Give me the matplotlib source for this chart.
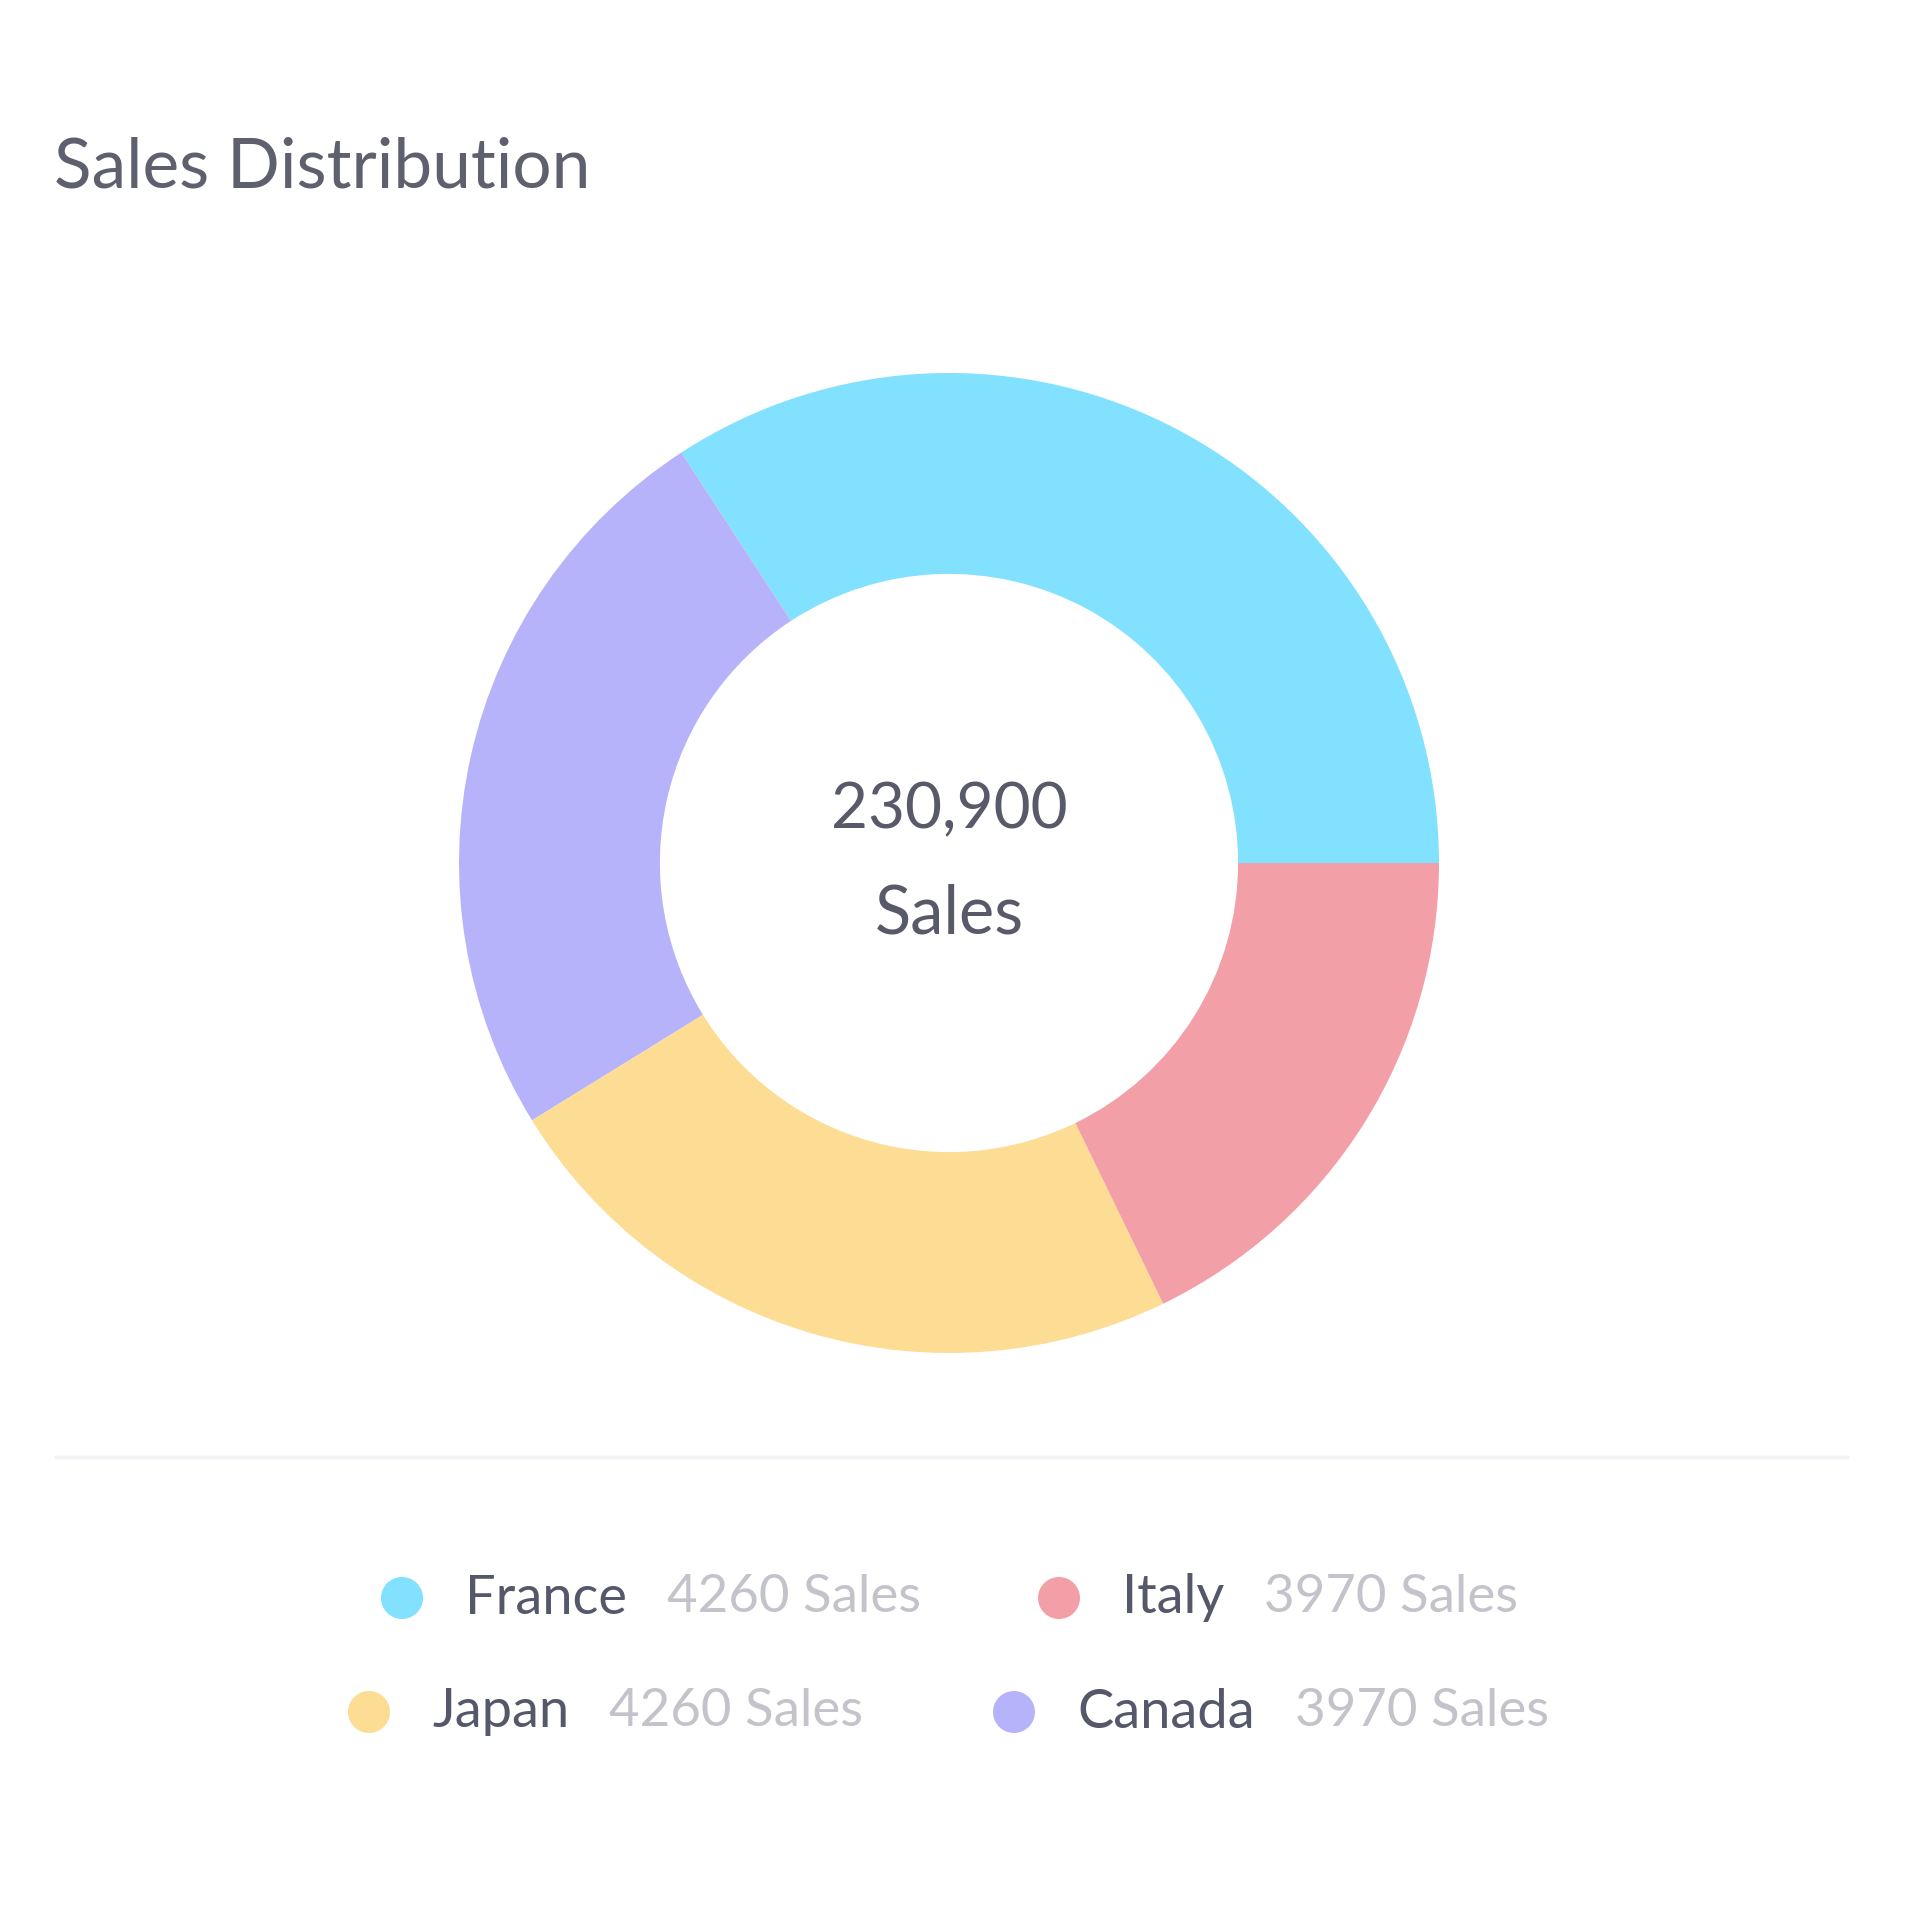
import matplotlib.pyplot as plt
from matplotlib.patches import Circle

plt.rcParams['font.family'] = ['Lato', 'DejaVu Sans']

# slice shares (counter-clockwise from 3 o'clock)
slice_names = ['France', 'Canada', 'Japan', 'Italy']
slice_shares = [34.2, 24.6, 23.4, 17.8]
slice_colors = ['#82e1fe', '#b6b3fa', '#fddc94', '#f29fa8']

total_sales = '230,900'

# legend rows as shown under the chart
legend_names = ['France', 'Italy', 'Japan', 'Canada']
legend_sales = [4260, 3970, 4260, 3970]
legend_colors = ['#82e1fe', '#f29fa8', '#fddc94', '#b6b3fa']

W = 1920
fig = plt.figure(figsize=(19.2, 19.2), dpi=100)
fig.patch.set_facecolor('white')

# background axes in pixel units for title, rule and legend
bg = fig.add_axes([0, 0, 1, 1])
bg.set_xlim(0, W)
bg.set_ylim(W, 0)
bg.axis('off')

bg.text(54, 168, 'Sales Distribution', fontsize=50, color='#5e606e',
        ha='left', va='center')
bg.plot([54, 1849], [1457, 1457], color='#f1f2f5', lw=2.5,
        solid_capstyle='butt')

# donut
cx, cy, r = 949, 863, 490
ax = fig.add_axes([(cx - r) / W, (W - cy - r) / W, 2 * r / W, 2 * r / W])
ax.pie(slice_shares, colors=slice_colors, startangle=0, counterclock=True,
       radius=1, wedgeprops=dict(width=0.41, linewidth=0))
ax.set_xlim(-1, 1)
ax.set_ylim(-1, 1)
ax.set_aspect('equal')
ax.axis('off')

bg.text(cx, 810, total_sales, fontsize=46, color='#585a6a',
        ha='center', va='center')
bg.text(cx, 914, 'Sales', fontsize=48, color='#585a6a',
        ha='center', va='center')

# legend
dot_x = [402, 1059, 369, 1014]
row_y = [1598, 1598, 1712, 1712]
for k in range(4):
    bg.add_patch(Circle((dot_x[k], row_y[k]), 21, color=legend_colors[k],
                        lw=0))
    t = bg.text(dot_x[k] + 63, row_y[k], legend_names[k], fontsize=39,
                color='#55576a', ha='left', va='center')
    fig.canvas.draw()
    bb = t.get_window_extent()
    bg.text(bb.x1 + 40, row_y[k], str(legend_sales[k]) + ' Sales',
            fontsize=38, color='#c3c3cb', ha='left', va='center')

plt.savefig('out.png', dpi=100, facecolor='white')
